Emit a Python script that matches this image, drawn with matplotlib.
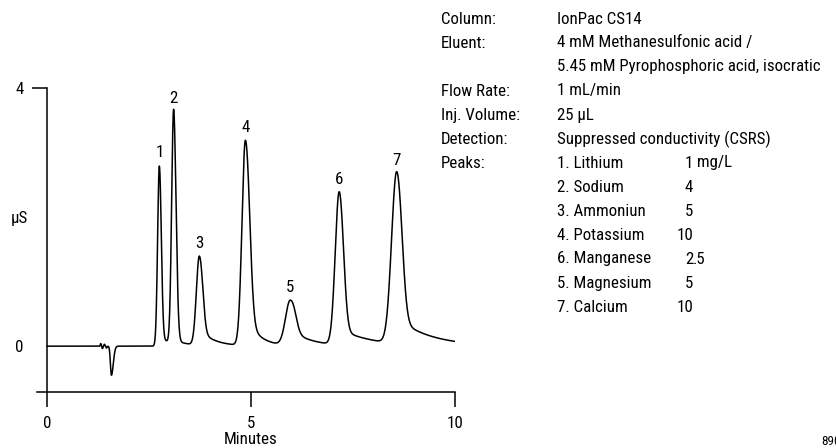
import numpy as np
import matplotlib.pyplot as plt

# peak table (minutes, uS)
peak_labels = ['1', '2', '3', '4', '5', '6', '7']
retention = [2.75, 3.10, 3.73, 4.86, 5.96, 7.16, 8.57]
heights = [2.79, 3.62, 1.38, 3.18, 0.70, 2.37, 2.66]
sigma_left = [0.042, 0.048, 0.072, 0.083, 0.115, 0.097, 0.125]
sigma_right = [0.047, 0.058, 0.078, 0.098, 0.110, 0.100, 0.120]
tail_amp = [0.12, 0.05, 0.25, 0.50, 0.25, 0.25, 0.40]
tail_tau = [0.40, 0.30, 0.35, 0.30, 0.50, 0.80, 0.80]

# injection disturbance near 1.3-1.6 min
dist_time = [1.31, 1.35, 1.40, 1.45, 1.575]
dist_height = [0.04, -0.04, 0.03, -0.03, -0.45]
dist_width = [0.012, 0.012, 0.012, 0.012, 0.035]

info_keys = ['Column:', 'Eluent:', '', 'Flow Rate:', 'Inj. Volume:', 'Detection:', 'Peaks:']
info_vals = ['IonPac CS14', '4 mM Methanesulfonic acid /',
             '5.45 mM Pyrophosphoric acid, isocratic', '1 mL/min',
             '25 \u00b5L', 'Suppressed conductivity (CSRS)']
peak_names = ['1. Lithium', '2. Sodium', '3. Ammoniun', '4. Potassium',
              '6. Manganese', '5. Magnesium', '7. Calcium']
amounts = ['1', '4', '5', '10', '2.5', '5', '10']

plt.rcParams['font.family'] = ['Roboto Condensed', 'Arial Narrow', 'PT Sans Narrow',
                               'Archivo Narrow', 'IBM Plex Sans Condensed', 'DejaVu Sans']
plt.rcParams['font.size'] = 12.2

t = np.linspace(0, 10, 4001)
y = np.zeros_like(t)
for tr, h, sl, sr, ta, tau in zip(retention, heights, sigma_left, sigma_right, tail_amp, tail_tau):
    d = t - tr
    s = np.where(d < 0, sl, sr)
    y += h * np.exp(-0.5 * (d / s) ** 2)
    dp = np.clip(d, 0, None)
    y += ta * (1 - np.exp(-(dp / sr) ** 2)) * np.exp(-dp / tau)
for tc, h, w in zip(dist_time, dist_height, dist_width):
    d = t - tc
    s = np.where(d < 0, w * 0.7, w * 1.3)
    y += h * np.exp(-0.5 * (d / s) ** 2)

fig = plt.figure(figsize=(8.36, 4.48), dpi=100)
ax = fig.add_axes([37 / 836, 56 / 448, 418 / 836, 304 / 448])
ax.plot(t, y, color='black', lw=1.1)
ax.set_xlim(-0.25, 10)
ax.set_ylim(-0.71, 4)

ax.spines['top'].set_visible(False)
ax.spines['right'].set_visible(False)
ax.spines['left'].set_position(('data', 0))
ax.spines['left'].set_bounds(-0.71, 4)
for sp in ['left', 'bottom']:
    ax.spines[sp].set_linewidth(1.1)

ax.set_xticks([0, 5, 10])
ax.set_yticks([0, 4])
ax.tick_params(direction='out', length=10.5, width=1.1, pad=6.5)
ax.yaxis.get_major_ticks()[0].tick1line.set_visible(False)
fig.text(251 / 836, 1 - 439 / 448, 'Minutes', ha='center', va='center')
fig.text(19 / 836, 1 - 218 / 448, '\u00b5S', ha='center', va='center')

for lab, tr, h in zip(peak_labels, retention, heights):
    ax.annotate(lab, (tr, h), xytext=(0, 6.5), textcoords='offset points',
                ha='center', va='baseline')

# method details
row = 24 / 448
y0 = 1 - 19 / 448
for i, k in enumerate(info_keys):
    fig.text(441 / 836, y0 - i * row, k, va='center')
for i, v in enumerate(info_vals):
    fig.text(557 / 836, y0 - i * row, v, va='center')
for i, (n, a) in enumerate(zip(peak_names, amounts)):
    yy = y0 - (6 + i) * row
    fig.text(557 / 836, yy, n, va='center')
    whole, _, frac = a.partition('.')
    fig.text(693 / 836, yy, whole, va='center', ha='right')
    rest = ' mg/L' if i == 0 else ('.' + frac if frac else '')
    if rest:
        fig.text(693 / 836, yy, rest, va='center', ha='left')

fig.text(821 / 836, 1 - 441 / 448, '890', fontsize=9.5, va='center')

fig.savefig('out.png', dpi=100)
